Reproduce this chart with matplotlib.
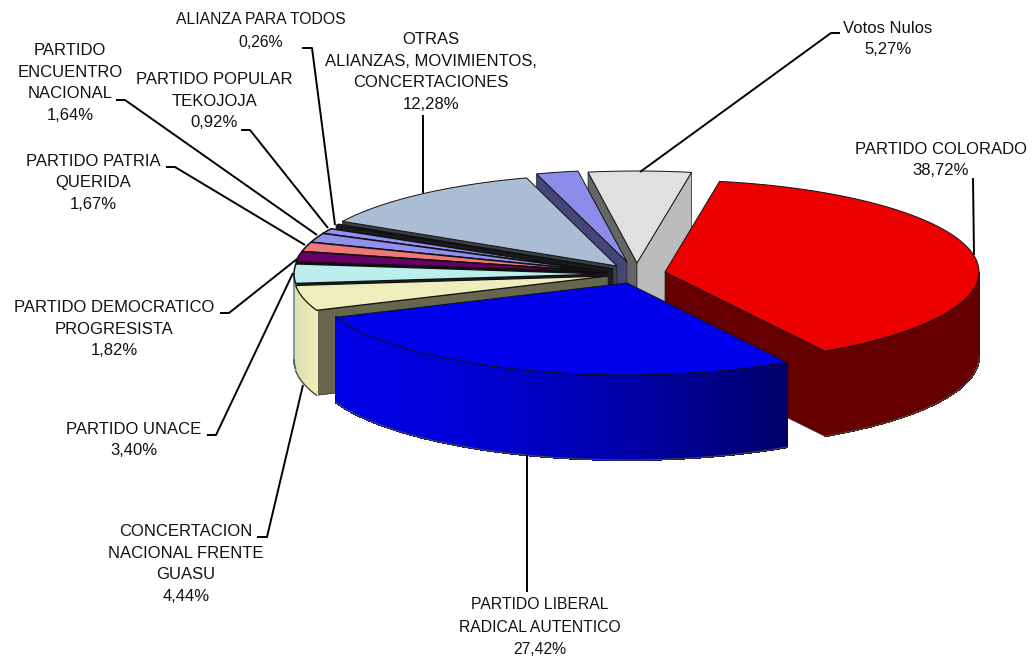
#!/usr/bin/env python3
"""Exploded 3D pie of the election results, drawn by hand in pixel coordinates"""

import numpy as np
import matplotlib.pyplot as plt
from matplotlib.colors import to_rgb

plt.rcParams['font.family'] = ['Liberation Sans', 'DejaVu Sans']

# Data (clockwise from the start angle)
parties = ['PARTIDO COLORADO', 'PARTIDO LIBERAL\nRADICAL AUTENTICO',
           'CONCERTACION\nNACIONAL FRENTE\nGUASU', 'PARTIDO UNACE',
           'PARTIDO DEMOCRATICO\nPROGRESISTA', 'PARTIDO PATRIA\nQUERIDA',
           'PARTIDO\nENCUENTRO\nNACIONAL', 'PARTIDO POPULAR\nTEKOJOJA',
           'ALIANZA PARA TODOS', 'OTRAS\nALIANZAS, MOVIMIENTOS,\nCONCERTACIONES',
           '', 'Votos Nulos']
shares = [38.72, 27.42, 4.44, 3.40, 1.82, 1.67, 1.64, 0.92, 0.26, 12.28, 2.16, 5.27]
share_labels = ['38,72%', '27,42%', '4,44%', '3,40%', '1,82%', '1,67%',
                '1,64%', '0,92%', '0,26%', '12,28%', '', '5,27%']

# Pie geometry in pixels
START_ANGLE = 80.0
RX, RY = 314, 92
DEPTH = 85
CENTER = (610, 272)
# explode offset of each slice from the centre
explode = [(55, 0), (17, 11), (-2, 4), (-2, 2), (-2, 0), (-2, 0), (-2, 0),
           (-2, 0), (3, -3), (7, -6), (17, -10), (27, -9)]

# top, cut face, wall at left, wall at right
top_colors = ['#EC0000', '#0000EC', '#EEEEBC', '#BCEEEE', '#660066', '#EE7777',
              '#9090EE', '#9090EE', '#9C9CCC', '#ABBCD5', '#8C8CEA', '#E0E0E0']
cut_colors = ['#660000', '#00006A', '#66664F', '#1A2222', '#1A001A', '#2A1515',
              '#1A1A2A', '#1A1A2A', '#1A1A22', '#3A4048', '#454577', '#666666']
wall_left = ['#660000', '#0000E4', '#E0E0B2', '#78A0A0', '#660066', '#EE7777',
             '#9090EE', '#9090EE', '#9C9CCC', '#ABBCD5', '#8C8CEA', '#BCBCBC']
wall_right = ['#660000', '#00006A', '#EEEEBC', '#78A0A0', '#660066', '#EE7777',
              '#9090EE', '#9090EE', '#9C9CCC', '#ABBCD5', '#8C8CEA', '#BCBCBC']
right_cut_colors = {11: '#BCBCBC'}
edge_widths = [0.7, 0.7, 0.9, 1.1, 1.1, 1.1, 1.1, 1.1, 1.1, 0.7, 0.7, 0.7]

# back slices first, blue goes over the red one
draw_order = [11, 10, 9, 8, 7, 6, 5, 4, 3, 2, 0, 1]

# Label centre, font size and leader line, in pixels
label_pos = [(941, 160), (540, 627), (186, 564), (134, 440), (114, 329), (93, 183),
             (70, 83), (214, 101), (261, 31), (431, 72), None, (888, 39)]
label_sizes = [12, 11.3, 12, 12, 12, 12, 12, 12, 11.3, 12, 12, 12]
leaders = [[(973, 178), (974, 255)],
           [(527, 592), (527, 455)],
           [(257, 537), (267, 537), (303, 385)],
           [(207, 435), (216, 435), (293, 273)],
           [(220, 313), (229, 313), (297, 259)],
           [(166, 167), (175, 167), (305, 245)],
           [(116, 100), (125, 100), (317, 235)],
           [(241, 130), (250, 130), (328, 228)],
           [(302, 48), (312, 48), (335, 225)],
           [(423, 115), (423, 193)],
           None,
           [(840, 33), (831, 33), (640, 172)]]

fig = plt.figure(figsize=(10.32, 6.59), dpi=100)
ax = fig.add_axes([0, 0, 1, 1])
ax.set_xlim(0, 1032)
ax.set_ylim(659, 0)
ax.axis('off')


def rim(apex, ang):
    a = np.radians(ang)
    return apex[0] + RX * np.cos(a), apex[1] - RY * np.sin(a)


def draw_slice(i, a_hi, a_lo):
    apex = (CENTER[0] + explode[i][0], CENTER[1] + explode[i][1])

    # flat cut faces, only the ones turned towards the viewer
    for ang, visible, col in [(a_hi, np.cos(np.radians(a_hi)) < 0, cut_colors[i]),
                              (a_lo, np.cos(np.radians(a_lo)) > 0,
                               right_cut_colors.get(i, cut_colors[i]))]:
        if visible:
            x, y = rim(apex, ang)
            ax.fill([apex[0], x, x, apex[0]], [apex[1], y, y + DEPTH, apex[1] + DEPTH],
                    facecolor=col, edgecolor='#222222', linewidth=0.5)

    # outer wall, split up for the gradient
    angs = np.linspace(a_lo, a_hi, max(int(a_hi - a_lo) * 2, 2) + 1)
    c_l, c_r = np.array(to_rgb(wall_left[i])), np.array(to_rgb(wall_right[i]))
    px = [rim(apex, a)[0] for a in angs]
    x_min, x_max = apex[0] - RX, apex[0] + RX
    lit_x = [rim(apex, a)[0] for a in (a_lo, a_hi) if np.sin(np.radians(a)) < 0]
    if lit_x:
        x_min, x_max = min(lit_x), max(lit_x)
    for a0, a1, x0 in zip(angs[:-1], angs[1:], px[:-1]):
        if np.sin(np.radians((a0 + a1) / 2)) >= 0:
            continue
        xa, ya = rim(apex, a0)
        xb, yb = rim(apex, a1)
        t = np.clip((x0 - x_min) / max(x_max - x_min, 1), 0, 1) ** 1.6
        col = c_l + (c_r - c_l) * t
        # no antialiasing here, otherwise the strips show seams
        ax.fill([xa, xb, xb, xa], [ya, yb, yb + DEPTH, ya + DEPTH],
                facecolor=col, edgecolor=col, linewidth=0.8, antialiased=False)
    front = [a for a in angs if np.sin(np.radians(a)) < 0]
    if front:
        low = [rim(apex, a) for a in front]
        ax.plot([p[0] for p in low], [p[1] + DEPTH for p in low],
                color='#444444', linewidth=0.9)

    # top
    arc = [rim(apex, a) for a in angs]
    ax.fill([apex[0]] + [p[0] for p in arc], [apex[1]] + [p[1] for p in arc],
            facecolor=top_colors[i], edgecolor='#111111', linewidth=edge_widths[i])


# Slice angles from the shares
total = sum(shares)
bounds = START_ANGLE - np.cumsum([0] + shares) / total * 360
for i in draw_order:
    draw_slice(i, bounds[i], bounds[i + 1])

# Labels and leader lines
for i, name in enumerate(parties):
    if label_pos[i] is None:
        continue
    ax.text(label_pos[i][0], label_pos[i][1], name + '\n' + share_labels[i],
            ha='center', va='center', fontsize=label_sizes[i],
            linespacing=1.55 * 12 / label_sizes[i], color='#111111')
    xs, ys = zip(*leaders[i])
    ax.plot(xs, ys, color='black', linewidth=1.4, solid_capstyle='butt')

plt.savefig('out.png', dpi=100)
